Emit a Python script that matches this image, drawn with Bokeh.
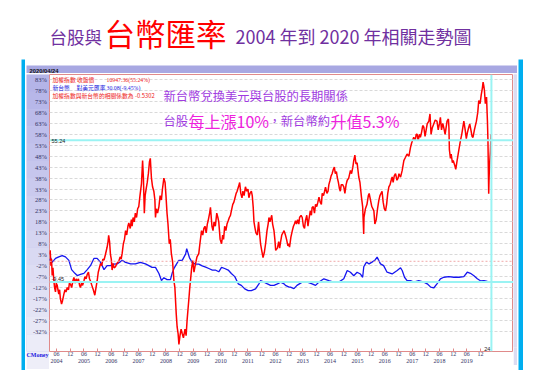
import pandas as pd
from bokeh.plotting import figure
from bokeh.layouts import column, row
from bokeh.models import (Range1d, FixedTicker, DatetimeTickFormatter, DatetimeAxis, LinearAxis, Spacer,
                          Grid, Span, Label, ColumnDataSource)
from bokeh.core.properties import value
from bokeh.embed import file_html
from bokeh.resources import INLINE

# ---------------- data ----------------
red_dates = [
    "2004-02-28", "2004-03-08", "2004-03-18", "2004-03-26", "2004-04-04", "2004-04-14", "2004-04-24", "2004-05-06", "2004-05-18", "2004-05-28", "2004-06-10", "2004-06-20", "2004-07-01", "2004-07-12", "2004-07-22", "2004-08-07", "2004-08-20", "2004-09-07", "2004-09-22", "2004-10-05", "2004-10-22", "2004-11-08", "2004-11-20", "2004-12-04", "2004-12-20",
    "2005-01-05", "2005-01-19", "2005-02-05", "2005-02-18", "2005-03-04", "2005-03-20", "2005-04-05", "2005-04-16", "2005-05-01", "2005-05-15", "2005-06-01", "2005-06-15", "2005-07-01", "2005-07-16", "2005-08-01", "2005-08-15", "2005-08-28", "2005-09-15", "2005-10-05", "2005-10-25", "2005-11-10", "2005-11-25", "2005-12-10", "2005-12-25",
    "2006-01-10", "2006-01-25", "2006-02-10", "2006-02-25", "2006-03-15", "2006-04-07", "2006-04-20", "2006-04-28", "2006-05-10", "2006-05-22", "2006-06-02", "2006-06-13", "2006-06-25", "2006-07-10", "2006-07-28", "2006-08-15", "2006-09-10", "2006-09-28", "2006-10-12", "2006-10-25", "2006-11-10", "2006-11-25", "2006-12-10", "2006-12-25",
    "2007-01-10", "2007-01-22", "2007-02-10", "2007-02-25", "2007-03-07", "2007-03-20", "2007-04-05", "2007-04-19", "2007-05-05", "2007-05-20", "2007-06-04", "2007-06-20", "2007-07-10", "2007-07-25", "2007-08-05", "2007-08-17", "2007-08-28", "2007-09-10", "2007-09-25", "2007-10-10", "2007-10-25", "2007-11-05", "2007-11-20", "2007-12-05", "2007-12-22",
    "2008-01-05", "2008-01-13", "2008-01-25", "2008-02-10", "2008-02-28", "2008-03-15", "2008-04-01", "2008-04-15", "2008-05-04", "2008-05-20", "2008-06-01", "2008-06-15", "2008-06-28", "2008-07-15", "2008-07-28", "2008-08-12", "2008-08-28", "2008-09-15", "2008-09-28", "2008-10-16", "2008-10-28", "2008-11-10", "2008-11-21", "2008-12-05", "2008-12-20",
    "2009-01-04", "2009-01-20", "2009-02-10", "2009-02-25", "2009-03-10", "2009-03-22", "2009-04-01", "2009-04-15", "2009-04-28", "2009-05-10", "2009-05-25", "2009-06-10", "2009-07-01", "2009-07-20", "2009-08-13", "2009-08-28", "2009-09-19", "2009-10-05", "2009-10-20", "2009-11-04", "2009-11-20", "2009-12-05", "2009-12-16",
    "2010-01-05", "2010-01-16", "2010-02-05", "2010-02-19", "2010-03-05", "2010-03-22", "2010-04-10", "2010-04-25", "2010-05-07", "2010-05-25", "2010-06-13", "2010-06-28", "2010-07-10", "2010-07-25", "2010-08-10", "2010-08-25", "2010-09-10", "2010-09-25", "2010-10-10", "2010-10-22", "2010-11-10", "2010-11-25", "2010-12-10", "2010-12-25",
    "2011-01-07", "2011-01-25", "2011-02-10", "2011-02-25", "2011-03-13", "2011-03-25", "2011-04-10", "2011-04-28", "2011-05-15", "2011-06-01", "2011-06-13", "2011-06-28", "2011-07-16", "2011-07-28", "2011-08-10", "2011-08-20", "2011-09-01", "2011-09-15", "2011-10-04", "2011-10-20", "2011-11-05", "2011-11-16", "2011-12-01", "2011-12-19",
    "2012-01-05", "2012-01-22", "2012-02-10", "2012-02-25", "2012-03-07", "2012-03-20", "2012-04-13", "2012-04-25", "2012-05-13", "2012-05-25", "2012-06-05", "2012-06-28", "2012-07-15", "2012-07-28", "2012-08-10", "2012-08-25", "2012-09-25", "2012-10-13", "2012-10-28", "2012-11-15", "2012-11-28", "2012-12-07", "2012-12-25",
    "2013-01-13", "2013-01-28", "2013-02-10", "2013-02-25", "2013-03-10", "2013-03-25", "2013-04-10", "2013-04-20", "2013-05-10", "2013-05-25", "2013-06-10", "2013-06-25", "2013-07-07", "2013-07-25", "2013-08-10", "2013-08-22", "2013-09-10", "2013-09-25", "2013-10-04", "2013-10-20", "2013-11-05", "2013-11-19", "2013-12-05", "2013-12-20",
    "2014-01-04", "2014-01-20", "2014-02-05", "2014-02-16", "2014-03-05", "2014-03-20", "2014-04-01", "2014-04-20", "2014-05-05", "2014-05-16", "2014-06-01", "2014-06-15", "2014-06-28", "2014-07-15", "2014-07-28", "2014-08-10", "2014-08-25", "2014-09-04", "2014-09-20", "2014-10-05", "2014-10-16", "2014-10-28", "2014-11-15", "2014-12-01", "2014-12-16",
    "2015-01-01", "2015-01-16", "2015-02-05", "2015-02-28", "2015-03-15", "2015-04-01", "2015-04-13", "2015-04-28", "2015-05-13", "2015-05-28", "2015-06-19", "2015-07-05", "2015-07-25", "2015-08-10", "2015-08-24", "2015-08-28", "2015-09-16", "2015-10-07", "2015-10-25", "2015-11-05", "2015-11-22", "2015-12-10",
    "2016-01-07", "2016-01-20", "2016-02-07", "2016-02-25", "2016-03-13", "2016-03-28", "2016-04-25", "2016-05-10", "2016-05-25", "2016-06-10", "2016-06-25", "2016-07-10", "2016-07-25", "2016-08-10", "2016-08-25", "2016-09-07", "2016-09-20", "2016-10-05", "2016-10-22", "2016-11-10", "2016-11-25", "2016-12-07", "2016-12-28",
    "2017-01-19", "2017-02-10", "2017-03-04", "2017-03-25", "2017-04-19", "2017-05-10", "2017-05-25", "2017-06-22", "2017-07-10", "2017-07-25", "2017-08-07", "2017-08-20", "2017-09-05", "2017-09-19", "2017-10-05", "2017-10-20", "2017-11-04", "2017-11-20", "2017-12-05", "2017-12-19",
    "2018-01-10", "2018-01-25", "2018-02-08", "2018-02-25", "2018-03-16", "2018-04-05", "2018-04-28", "2018-05-15", "2018-06-01", "2018-06-13", "2018-06-28", "2018-07-15", "2018-07-28", "2018-08-15", "2018-09-10", "2018-09-28", "2018-10-05", "2018-10-11", "2018-10-25", "2018-11-04", "2018-11-20", "2018-12-01", "2018-12-20",
    "2019-01-04", "2019-01-22", "2019-02-10", "2019-03-07", "2019-03-25", "2019-04-22", "2019-05-10", "2019-05-25", "2019-06-10", "2019-06-25", "2019-07-10", "2019-07-25", "2019-08-10", "2019-08-22", "2019-09-10", "2019-10-07", "2019-10-25", "2019-11-07", "2019-11-25", "2019-12-10", "2019-12-25",
    "2020-01-04", "2020-01-14", "2020-01-22", "2020-02-03", "2020-02-19", "2020-03-02", "2020-03-09", "2020-03-13", "2020-03-19", "2020-03-24", "2020-04-01", "2020-04-10", "2020-04-19", "2020-04-24",
]
red_pct = [
    3, 5, -2, 1, -6.5, -3, -8, -12, -14, -10, -11, -13, -15, -13, -17, -19.5, -18, -15, -13, -14, -12, -13, -10, -10.5, -12,
    -9, -7.4, -10, -8, -9.5, -8, -11, -12, -10, -11, -9, -7, -8, -6, -5, -8, -9, -11, -13, -15.5, -12, -9, -5, -3,
    -1, -2, 1, 0.5, 3, 6.4, 9, 11.8, 9, 3, 1, -4, -1, -3, -2.5, -1, 0, 2, 1, 3.6, 8, 10, 14, 12,
    16, 17.5, 15, 19, 16, 20, 18, 22, 20, 24, 25, 30, 35.5, 46, 38, 22, 30, 33, 36, 40, 45.5, 47, 38, 34, 32,
    28, 20, 24, 22, 25, 30, 28, 33, 38, 36, 30, 22, 17, 8, 10, 3.5, 0, -8.8, -12, -24, -30, -33, -38, -34, -31,
    -33, -35, -31, -34, -27, -22, -18, -12, -7.4, -3, 0.3, -5, -1, 2, 3.5, 8, 14, 12, 15, 16, 13, 17, 18.5,
    22, 24.6, 16, 14, 18, 16, 22, 20, 18, 10, 8, 12, 10, 16, 14, 17, 18.5, 20, 21, 23, 26, 27, 29, 31,
    32, 34, 36, 31, 29, 32, 30, 34, 32, 33, 29, 31, 32, 30, 24.6, 18, 15.5, 13, 12, 18, 12, 8, 5, 1.7,
    4, 8, 14, 17, 20, 18, 21, 17, 14, 10, 5, 6, 9, 6, 9, 12, 14, 12, 10, 7, 8, 6.5, 11,
    14, 16, 17, 18.5, 17, 19, 17, 20, 21, 20, 16, 15, 18.5, 21, 16, 19, 23, 21, 24.5, 25, 22, 26, 25, 27,
    29.3, 27, 26, 31, 30, 32, 33.8, 31, 32, 35, 37, 39, 40, 42, 43, 40, 41, 38.5, 36, 33, 32, 35, 35, 34, 31,
    35, 37, 38, 41.5, 40, 43, 46, 48.5, 44.5, 45, 38.5, 36, 29.3, 25, 12.5, 20, 24, 26, 30, 31, 28, 25,
    23, 17, 19, 24, 27.8, 30, 32, 27, 24, 23, 26, 31, 34, 35, 37, 38.5, 36, 39, 40, 37, 38, 40, 38.4,
    41.5, 46, 47.5, 49, 48, 52, 54, 56.6, 55, 58, 58, 55, 58, 56.6, 59, 62, 61.2, 57, 60, 62.7,
    64, 67.3, 58, 61, 62.7, 64.5, 64, 60, 63, 65.7, 60, 63, 61, 58, 64, 65, 61, 51, 47, 49, 45, 46, 44,
    42, 46, 50, 55, 58, 64, 60, 56, 59, 61, 62.7, 60, 57, 56.6, 60, 64, 68, 73.4, 72, 76, 79,
    81.8, 80, 78, 72, 75, 64, 55, 45, 30.8, 38, 45, 50, 58, 55.24,
]

twd_dates = [
    "2004-02-28", "2004-03-16", "2004-04-04", "2004-05-18", "2004-07-01", "2004-08-16", "2004-09-28", "2004-11-13", "2004-12-19",
    "2005-02-01", "2005-03-04", "2005-04-16", "2005-06-01", "2005-07-16", "2005-08-28", "2005-10-13", "2005-11-25",
    "2006-01-10", "2006-02-25", "2006-04-07", "2006-05-22", "2006-07-04", "2006-08-19", "2006-10-25", "2006-12-10",
    "2007-02-15", "2007-04-19", "2007-06-25", "2007-09-01", "2007-10-16", "2007-11-28",
    "2008-01-13", "2008-02-28", "2008-04-02", "2008-05-04", "2008-06-16", "2008-07-31", "2008-08-22", "2008-09-20", "2008-10-15", "2008-11-19",
    "2009-01-04", "2009-02-19", "2009-03-05", "2009-04-10", "2009-05-16", "2009-07-01", "2009-08-13", "2009-09-28", "2009-11-13", "2009-12-25",
    "2010-02-10", "2010-03-22", "2010-05-07", "2010-06-13", "2010-07-25", "2010-09-10", "2010-10-22", "2010-12-07",
    "2011-01-22", "2011-03-04", "2011-04-19", "2011-06-04", "2011-07-16", "2011-09-10", "2011-10-25", "2011-11-16",
    "2012-01-01", "2012-02-16", "2012-03-28", "2012-05-13", "2012-06-28", "2012-08-10", "2012-09-25", "2012-10-13", "2012-12-01", "2012-12-19",
    "2013-02-04", "2013-03-16", "2013-05-25", "2013-08-01", "2013-10-04", "2013-11-19",
    "2014-01-04", "2014-03-10", "2014-05-16", "2014-07-19", "2014-09-25", "2014-12-01",
    "2015-01-16", "2015-02-28", "2015-04-13", "2015-05-28", "2015-07-10", "2015-08-10", "2015-08-25", "2015-09-16", "2015-10-01", "2015-11-04",
    "2016-01-19", "2016-02-19", "2016-04-04", "2016-05-16", "2016-07-01", "2016-09-07", "2016-11-13", "2016-12-28",
    "2017-01-19", "2017-02-19", "2017-03-25", "2017-05-10", "2017-06-22", "2017-08-28", "2017-11-04", "2017-12-19",
    "2018-02-04", "2018-03-16", "2018-04-28", "2018-06-13", "2018-07-28", "2018-10-04", "2018-12-10",
    "2019-02-16", "2019-04-22", "2019-06-07", "2019-07-19", "2019-09-04", "2019-10-19", "2019-12-04",
    "2020-01-16", "2020-03-01", "2020-04-24",
]
twd_pct = [
    0.4, 1.5, -0.5, 1.3, 2, 2.6, 2, 0.4, -3.8,
    -5.5, -6.5, -6, -5.5, -3.8, -2, 1.3, 1.3,
    -0.5, -3.8, -2, -2, -1.3, -1.2, 0.4, -0.5,
    -1.2, -1.2, -0.5, -1.2, -2, -2.8,
    -2.8, -5.6, -8.8, -7.5, -8.4, -8.4, -5.5, -3, -1.5, 0.4,
    0.4, 3.4, 5.8, 1.7, -0.5, -1.3, -1.3, -2.1, -2.7, -3.3,
    -4, -4, -4.8, -2.8, -3.3, -4, -5.6, -7,
    -10.3, -11, -12.6, -13.4, -13.4, -12.6, -10.3, -8.8,
    -9.5, -10.3, -11, -11, -10.3, -9.5, -10.3, -11, -11.8, -11.8,
    -12.5, -11, -9.5, -9.5, -10.3, -11,
    -9.5, -8, -8.8, -9.5, -9.5, -8,
    -4.2, -5, -6.6, -5, -5.8, -7.3, -2.5, -1.2, -0.4, -1.2,
    0.4, 1.9, -1.2, -2, -5, -5.8, -4.2, -3,
    -4.2, -7.3, -8.8, -8.8, -9.5, -8.8, -9.5, -10.3,
    -11.8, -12.2, -10.3, -8, -7.3, -7, -7.3,
    -7.3, -7, -5, -5.5, -6.6, -8, -9,
    -8.8, -9.2, -9.45,
]

y_ticks = [83, 78, 73, 68, 63, 58, 53, 48, 43, 38, 33, 28, 23, 18, 13, 8, 3, -2, -7, -12, -17, -22, -27, -32]
y_tick_labels = [f"{t}%" for t in y_ticks]
half_year_ticks = [f"{y}-{m}-01" for y in range(2004, 2020) for m in ("06", "12")]
year_ticks = [f"{y}-06-01" for y in range(2004, 2020)]

last_date = "2020-04-24"
taiex_close, taiex_chg = 10947.36, 55.24
twd_rate, twd_chg = 30.08, -9.45
corr = -0.5302
source_name = "CMoney"

# ---------------- styling helpers ----------------
CJK = "Noto Sans CJK TC"
BLUE = "#00AEEF"
PURPLE = "#7030A0"
VIO = "#A03BDF"
MAG = "#EE22DD"
AXC = "#333366"
FRAME_W, FRAME_H, TOP_B, BOT_B = 464, 277, 1, 14


def ms(d):
    return pd.Timestamp(d).value / 1e6


def block(w, h, color):
    f = figure(width=w, height=h, toolbar_location=None, output_backend="svg",
               min_border=0, x_axis_location=None, y_axis_location=None,
               x_range=Range1d(0, w), y_range=Range1d(h, 0))
    f.background_fill_color = color
    f.border_fill_color = color
    f.outline_line_color = None
    f.grid.visible = False
    return f


def btext(f, x, y, s, size, color, font=CJK, bold=False):
    f.add_layout(Label(x=x, y=y, text=s, text_font=font, text_font_size=f"{size}px",
                       text_color=color, text_baseline="middle", text_align="left",
                       text_font_style="bold" if bold else "normal"))


def tidy_axis(ax, tick_in=0):
    ax.axis_line_color = None
    ax.major_tick_in = tick_in
    ax.major_tick_out = 0
    ax.minor_tick_in = 0
    ax.minor_tick_out = 0
    ax.minor_tick_line_color = None
    ax.major_label_standoff = 0
    ax.axis_label_standoff = 0
    ax.major_label_text_font = "Liberation Serif"
    ax.major_label_text_font_size = "6px"
    ax.major_label_text_color = AXC


# ---------------- title strip (page y 8..59) ----------------
title = block(524, 51, "white")
btext(title, 41, 27.5, "台股與", 17.5, PURPLE)
btext(title, 96, 24.5, "台幣匯率", 30.5, "#FF0000")
btext(title, 227, 27.5, "2004 年到 2020 年相關走勢圖", 18, PURPLE)

# ---------------- header bar (page y 63..73) ----------------
header = block(491, 10, "#A8A8E2")
btext(header, 3, 5.5, last_date.replace("-", "/"), 5.8, "#111111", font="Liberation Sans", bold=True)

# ---------------- main chart (frame page x 49..513, y 74..351) ----------------
X0, X1 = ms("2004-02-28"), ms("2021-02-13")
Y0, Y1 = -41.2, 85.3
p = figure(frame_width=FRAME_W, frame_height=FRAME_H, x_axis_type="datetime", y_axis_location=None,
           x_range=Range1d(X0, X1), y_range=Range1d(Y0, Y1),
           output_backend="svg", toolbar_location=None,
           min_border_left=0, min_border_right=0, min_border_top=TOP_B, min_border_bottom=BOT_B)
p.background_fill_color = "white"
p.border_fill_color = "white"
p.outline_line_color = "#E08A8A"
p.outline_line_width = 1

xa = p.xaxis[0]
xa.ticker = FixedTicker(ticks=[ms(d) for d in half_year_ticks])
fm = "%m"
xa.formatter = DatetimeTickFormatter(microseconds=fm, milliseconds=fm, seconds=fm, minsec=fm,
                                     minutes=fm, hourmin=fm, hours=fm, days=fm, months=fm, years=fm)
tidy_axis(xa, tick_in=3)
xa.major_tick_line_color = "#E08A8A"

fy = "%Y"
xa2 = DatetimeAxis(ticker=FixedTicker(ticks=[ms(d) for d in year_ticks]),
                   formatter=DatetimeTickFormatter(microseconds=fy, milliseconds=fy, seconds=fy,
                                                   minsec=fy, minutes=fy, hourmin=fy, hours=fy,
                                                   days=fy, months=fy, years=fy))
tidy_axis(xa2)
xa2.major_tick_line_color = None
p.add_layout(xa2, "below")

p.xgrid.visible = False
p.ygrid.visible = False
p.add_layout(Grid(dimension=1, ticker=FixedTicker(ticks=y_ticks),
                  grid_line_color="#D9D9D9", grid_line_dash="3 2"))

# reference lines
p.add_layout(Span(location=0, dimension="width", line_color="#F0A8A8", line_dash="2 2", line_width=1))
p.add_layout(Span(location=taiex_chg, dimension="width", line_color="#9AF3F3", line_width=2))
p.add_layout(Span(location=twd_chg, dimension="width", line_color="#9AF3F3", line_width=2))
p.add_layout(Span(location=ms(last_date), dimension="height", line_color="#9AF3F3", line_width=2))

# series
red_src = ColumnDataSource(dict(x=pd.to_datetime(red_dates), y=red_pct))
twd_src = ColumnDataSource(dict(x=pd.to_datetime(twd_dates), y=twd_pct))
p.line("x", "y", source=twd_src, line_color="#1515F0", line_width=1.3)
p.line("x", "y", source=red_src, line_color="#FF0000", line_width=1.5)


def ftxt(px, py, s, size, color, font=CJK, align="left", baseline="middle"):
    """text placed by page pixel offset from the frame's top-left corner (page 49, 74)"""
    p.add_layout(Label(x=X0, y=Y1, x_offset=px - 49, y_offset=-(py - 74), text=s,
                       text_font=font, text_font_size=f"{size}px", text_color=color,
                       text_align=align, text_baseline=baseline))


# value labels on the reference lines
p.add_layout(Label(x=X0, y=taiex_chg, x_offset=2, y_offset=-1, text=f"{taiex_chg:.2f}",
                   text_font="Liberation Sans", text_font_size="5.5px", text_color="#222222",
                   text_baseline="middle"))
p.add_layout(Label(x=X0, y=twd_chg, x_offset=2, y_offset=1, text=f"{twd_chg:.2f}",
                   text_font="Liberation Sans", text_font_size="5.5px", text_color="#222222",
                   text_baseline="bottom"))
p.add_layout(Label(x=ms(last_date), y=Y0, x_offset=-1, y_offset=1, text=last_date[-2:],
                   text_font="Liberation Sans", text_font_size="5.5px", text_color="#222222",
                   text_align="right", text_baseline="bottom"))

# legend text
ftxt(52, 79, "加權指數 收盤價", 5.8, "#EE2222")
ftxt(106, 79, f"{taiex_close:.2f}({taiex_chg:.2f}%)", 5.8, "#EE2222", font="Liberation Serif")
ftxt(52, 87, "新台幣", 5.8, "#2222DD")
ftxt(76, 87, "對美元匯率", 5.8, "#2222DD")
ftxt(106, 87, f"{twd_rate:.2f}({twd_chg:.2f}%)", 5.8, "#2222DD", font="Liberation Serif")
ftxt(52, 95, f"加權指數與新台幣的相關係數為 {corr:.4f}", 5.8, "#EE2222")

# annotations
ftxt(163, 95, "新台幣兌換美元與台股的長期關係", 12.3, VIO)
ftxt(163, 120.5, "台股", 12.3, VIO)
ftxt(188, 120, "每上漲10%", 16, MAG)
ftxt(268, 120.5, "，新台幣約", 12.3, VIO)
ftxt(330, 120, "升值5.3%", 16, MAG)

# ---------------- value-axis panel (page x 26..49): same frame geometry as the chart ----------------
left = figure(frame_width=23, frame_height=FRAME_H, toolbar_location=None, output_backend="svg",
              y_axis_location=None, x_range=Range1d(0, 23), y_range=p.y_range,
              min_border_left=0, min_border_right=0, min_border_top=TOP_B, min_border_bottom=BOT_B)
left.outline_line_color = None
left.grid.visible = False
left.background_fill_color = "#C8C8EE"
left.border_fill_color = "#EEEEF8"
nb = 16
band_h = (Y1 - Y0) / nb
tops, bots, cols = [], [], []
for i in range(nb):
    t = i / (nb - 1)
    r = int(180 + (236 - 180) * t)
    b = int(232 + (248 - 232) * t)
    tops.append(Y1 - i * band_h)
    bots.append(Y1 - (i + 1) * band_h - 0.05)
    cols.append(f"#{r:02x}{r:02x}{b:02x}")
left.quad(left=0, right=23, top=tops, bottom=bots, fill_color=cols, line_color=None)
left.text(x=[23] * len(y_ticks), y=y_ticks, text=y_tick_labels, x_offset=-2.5, text_align="right",
          text_baseline="middle", text_font=value("Liberation Serif"),
          text_font_size=value("6.5px"), text_color=AXC)
# bottom rows mirror the chart's two date rows so both panels keep identical heights
lax = left.xaxis[0]
lax.ticker = FixedTicker(ticks=[11])
lax.major_label_overrides = {11: source_name}
tidy_axis(lax)
lax.major_tick_line_color = None
lax.major_label_text_color = "#1A1AE0"
lax.major_label_text_font_style = "bold"
lax2 = LinearAxis(ticker=FixedTicker(ticks=[11]), major_label_overrides={11: " "})
tidy_axis(lax2)
lax2.major_tick_line_color = None
left.add_layout(lax2, "below")

right_strip = block(4, FRAME_H + TOP_B + BOT_B, "#DCDCF2")

# ---------------- frame assembly (with the 8px page margin) ----------------
chart_row = row(left, p, right_strip, spacing=0)                          # 491 x ~292
content = column(header, chart_row, spacing=0)
inner_row = row(Spacer(width=1, height=302), content, Spacer(width=1, height=302), spacing=0)
inner = column(block(493, 4, BLUE), inner_row, block(493, 5, BLUE), spacing=0)
mid = row(Spacer(width=13, height=311), block(4, 311, BLUE), inner, block(5, 311, BLUE), spacing=0)
body = column(title, mid, spacing=0)
layout = column(Spacer(width=532, height=8), row(Spacer(width=8, height=362), body, spacing=0), spacing=0)

open("out.html", "w").write(file_html(layout, INLINE))
